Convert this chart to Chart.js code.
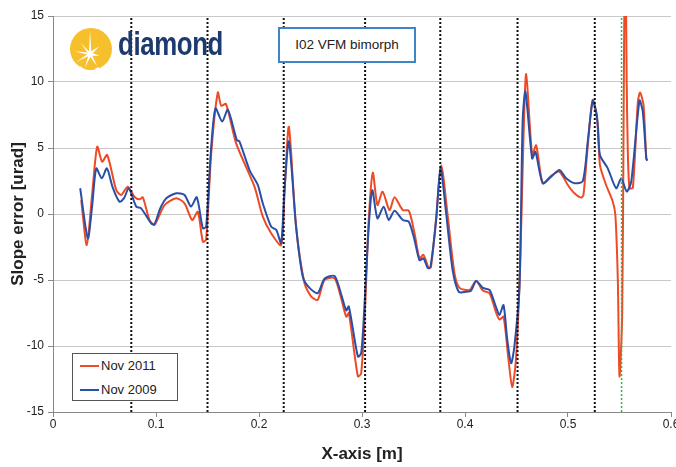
<!DOCTYPE html>
<html>
<head>
<meta charset="utf-8">
<script src="https://cdn.jsdelivr.net/npm/chart.js@4.4.1/dist/chart.umd.min.js"></script>
<style>
    html, body { margin: 0; padding: 0; background: #fff; overflow: hidden; }
    #wrap { position: relative; width: 685px; height: 467px; }
    #logo { position: absolute; left: 68px; top: 27px; width: 170px; height: 46px; }
    #logo svg { position: absolute; left: 0; top: 0; }
    #logo .word {
        position: absolute; left: 50px; top: -3px;
        font: bold 34px 'Liberation Sans', Arial, sans-serif;
        color: #1d3a6e; transform: scaleX(0.76); transform-origin: left top;
        letter-spacing: -0.5px;
    }
    #tag {
        position: absolute; left: 278px; top: 27px; width: 134px; height: 32px;
        border: 2px solid #3d85c6; background: #fff;
        font: 13.5px 'Liberation Sans', Arial, sans-serif; color: #222;
        line-height: 32px; text-align: center;
    }
    #legend {
        position: absolute; left: 72px; top: 353px; width: 104px; height: 46px;
        border: 1px solid #555; background: #fff;
        font: 13px 'Liberation Sans', Arial, sans-serif; color: #222;
    }
    #legend .row { position: absolute; left: 7px; height: 16px; line-height: 16px; }
    #legend .sw { display: inline-block; width: 19px; height: 2px; vertical-align: middle; margin-right: 2px; margin-top: -2px; }
</style>
</head>
<body>
<div id="wrap">
    <canvas id="slopeChart"></canvas>
    <div id="logo">
        <svg width="46" height="46" viewBox="0 0 46 46">
            <circle cx="23" cy="22" r="21" fill="#f6bf2c"/>
            <polygon fill="#fff" points="22,3 23.3,24.3 31.2,19.3 24.9,26.2 31.8,28.7 24.5,28.7 29,39.1 22.3,30 16.9,41.1 20.1,29.3 8.1,35 19,27.5 6.2,24.2 19.4,25.5 13,16.3 21,24.2"/>
            <path d="M12 40 L15 42.5 M27 42.8 L31 41" stroke="#fff" stroke-width="2"/>
        </svg>
        <span class="word">diamond</span>
    </div>
    <div id="tag">I02 VFM bimorph</div>
    <div id="legend">
        <div class="row" style="top:4px"><span class="sw" style="background:#ee4a26"></span>Nov 2011</div>
        <div class="row" style="top:28px"><span class="sw" style="background:#2a4fa6"></span>Nov 2009</div>
    </div>
</div>
<script>
    // Nov 2011 measurement
    const redX = [0.0274, 0.0328, 0.038, 0.0429, 0.0477, 0.0526, 0.0614, 0.0662, 0.0726, 0.079, 0.084, 0.0872, 0.0937, 0.0985,
        0.1083, 0.1196, 0.1277, 0.1351, 0.1406, 0.1455, 0.1487, 0.1535, 0.1600, 0.1633, 0.168, 0.1778, 0.1956, 0.2037, 0.2118,
        0.2215, 0.2250, 0.229, 0.236, 0.2442, 0.2507, 0.257, 0.2636, 0.2733, 0.2795, 0.2847, 0.2872, 0.296, 0.2992, 0.3025,
        0.3065, 0.3105, 0.315, 0.32, 0.3267, 0.3316, 0.3396, 0.3455, 0.351, 0.3558, 0.3597, 0.3648, 0.3670, 0.372, 0.3769,
        0.3833, 0.3898, 0.3947, 0.4044, 0.4108, 0.4173, 0.4238, 0.4303, 0.4335, 0.4374, 0.4415, 0.4458, 0.4495, 0.4535,
        0.4565, 0.4594, 0.4652, 0.4691, 0.4755, 0.4837, 0.4917, 0.4998, 0.5063, 0.5128, 0.515, 0.519, 0.524, 0.529, 0.531,
        0.537, 0.5435, 0.546, 0.5484, 0.55, 0.5526, 0.554, 0.5555, 0.5570, 0.558, 0.5597, 0.563, 0.5678, 0.570, 0.5733,
        0.576, 0.5769];
    const redY = [1.06, -2.35, 1.5, 5.1, 3.96, 4.47, 1.82, 1.44, 2.07, 1.31, 1.11, 1.26, -0.45, -0.83,
        0.68, 1.19, 0.81, -0.45, 0.17, -2.1, -1.92, 4.5, 9.2, 8.2, 8.33, 5.35, 2.07, -0.2, -1.46,
        -2.35, 2.0, 6.6, -0.96, -5.25, -6.26, -6.5, -5.0, -4.87, -6.3, -7.78, -7.5, -12.3, -12.07, -8.0,
        -0.5, 3.13, 0.68, 1.69, 0.3, 1.26, 0.3, 0.25, -1.46, -3.36, -3.1, -4.1, -4.0, -0.3, 3.7,
        -0.2, -4.5, -5.6, -5.75, -5.05, -5.8, -6.0, -7.5, -8.0, -7.78, -10.5, -13.1, -11.0, -4.0,
        5.0, 10.6, 4.47, 5.2, 2.33, 2.9, 3.2, 2.2, 1.57, 1.24, 1.44, 5.0, 8.64, 6.74, 3.7,
        2.2, 0.93, -0.08, -5.1, -12.3, -7.65, 7.5, 22, 10, 5.0, 1.95, 2.0, 8.5, 9.2, 8.26,
        4.22, 4.04];

    // Nov 2009 measurement
    const blueX = [0.0264, 0.0338, 0.038, 0.042, 0.0474, 0.0523, 0.058, 0.0646, 0.069, 0.0736, 0.0808, 0.0856, 0.0953, 0.0985,
        0.104, 0.110, 0.1196, 0.1277, 0.134, 0.1396, 0.1455, 0.1487, 0.1536, 0.1578, 0.1643, 0.1697, 0.1785, 0.181, 0.1908,
        0.1988, 0.2037, 0.2118, 0.2167, 0.2215, 0.2245, 0.229, 0.236, 0.2425, 0.249, 0.257, 0.2636, 0.2733, 0.2795, 0.2847,
        0.2872, 0.296, 0.2992, 0.302, 0.3065, 0.310, 0.315, 0.321, 0.326, 0.3316, 0.3396, 0.3455, 0.351, 0.3558, 0.3597,
        0.3639, 0.3665, 0.372, 0.3762, 0.3817, 0.388, 0.394, 0.401, 0.406, 0.4108, 0.4173, 0.4238, 0.4303, 0.4335, 0.4374,
        0.441, 0.4448, 0.448, 0.4529, 0.456, 0.4587, 0.4652, 0.4684, 0.4755, 0.4837, 0.4917, 0.4982, 0.5063, 0.5144, 0.5192,
        0.524, 0.528, 0.531, 0.5386, 0.5468, 0.5517, 0.557, 0.5614, 0.5694, 0.5726, 0.576, 0.5769];
    const blueY = [1.95, -1.84, 0.6, 3.46, 2.7, 3.46, 2.0, 0.93, 1.2, 1.95, 0.56, 0.43, -0.7, -0.78,
        0.4, 1.19, 1.57, 1.44, 0.56, 1.27, -1.08, -0.96, 5.1, 8.0, 7.0, 7.9, 5.6, 5.5, 3.33,
        2.2, 0.8, -0.96, -1.2, -2.2, 1.5, 5.5, -0.96, -4.75, -5.6, -6.0, -4.9, -4.7, -6.0, -7.3,
        -7.0, -10.8, -10.55, -7.5, -1.0, 1.8, -0.33, 0.55, -0.45, 0.25, -0.45, -0.58, -1.97, -3.5, -3.36,
        -4.1, -4.0, -0.45, 3.5, 0.05, -4.24, -5.9, -5.9, -5.8, -5.07, -5.6, -5.75, -7.1, -7.65, -6.9,
        -9.5, -11.3, -10.0, -5.5, 7.1, 9.27, 4.2, 4.7, 2.33, 2.83, 3.33, 2.7, 2.33, 2.5, 5.5,
        8.56, 7.5, 4.47, 3.46, 1.95, 2.7, 1.7, 2.45, 8.6, 7.75, 4.22, 4.04];

    // bimorph electrode boundaries and marker line
    const dividerX = [0.076, 0.150, 0.224, 0.303, 0.376, 0.451, 0.526];
    const markerX = [0.552];
    const yTicks = [-15, -10, -5, 0, 5, 10, 15];

    Chart.defaults.font.family = "'Liberation Sans', Arial, sans-serif";
    Chart.defaults.color = '#222';

    function zip(xs, ys) {
        return xs.map(function (x, i) { return { x: x, y: ys[i] }; });
    }

    function vline(x, color, width) {
        return {
            label: '',
            data: [{ x: x, y: yTicks[0] }, { x: x, y: yTicks[yTicks.length - 1] }],
            borderColor: color,
            borderWidth: width,
            borderDash: [2, 2],
            pointRadius: 0,
            order: 0
        };
    }

    const datasets = [
        {
            label: 'Nov 2011',
            data: zip(redX, redY),
            borderColor: '#ee4a26',
            borderWidth: 2,
            pointRadius: 0,
            tension: 0.25,
            order: 3
        },
        {
            label: 'Nov 2009',
            data: zip(blueX, blueY),
            borderColor: '#2a4fa6',
            borderWidth: 2,
            pointRadius: 0,
            tension: 0.25,
            order: 2
        }
    ];
    dividerX.forEach(function (x) { datasets.push(vline(x, '#111', 2)); });
    markerX.forEach(function (x) { datasets.push(vline(x, '#2db84a', 1.5)); });

    new Chart(document.getElementById('slopeChart').getContext('2d'), {
        type: 'line',
        data: { datasets: datasets },
        options: {
            responsive: true,
            maintainAspectRatio: false,
            animation: false,
            layout: { padding: { top: 16, right: 14, left: 0, bottom: 0 } },
            plugins: {
                legend: { display: false },
                tooltip: { enabled: false }
            },
            scales: {
                x: {
                    type: 'linear',
                    min: 0,
                    max: 0.6,
                    afterFit: function (scale) { scale.height = 55; },
                    border: { color: '#888' },
                    grid: { drawOnChartArea: false, tickColor: '#888', tickLength: 5 },
                    ticks: {
                        stepSize: 0.1,
                        padding: 0,
                        font: { size: 12 },
                        callback: function (v) { return v === 0 ? '0' : v.toFixed(1); }
                    },
                    title: {
                        display: true,
                        text: 'X-axis [m]',
                        font: { size: 17, weight: 'bold' },
                        padding: { top: 0, bottom: 2 }
                    }
                },
                y: {
                    min: -15,
                    max: 15,
                    afterFit: function (scale) { scale.width = 53; },
                    border: { color: '#888' },
                    grid: { color: '#c8c8c8', tickColor: '#888', tickLength: 5 },
                    ticks: { stepSize: 5, padding: 4, font: { size: 12 } },
                    title: {
                        display: true,
                        text: 'Slope error [urad]',
                        font: { size: 17, weight: 'bold' },
                        padding: { top: 8, bottom: 0 }
                    }
                }
            }
        }
    });
</script>
</body>
</html>
